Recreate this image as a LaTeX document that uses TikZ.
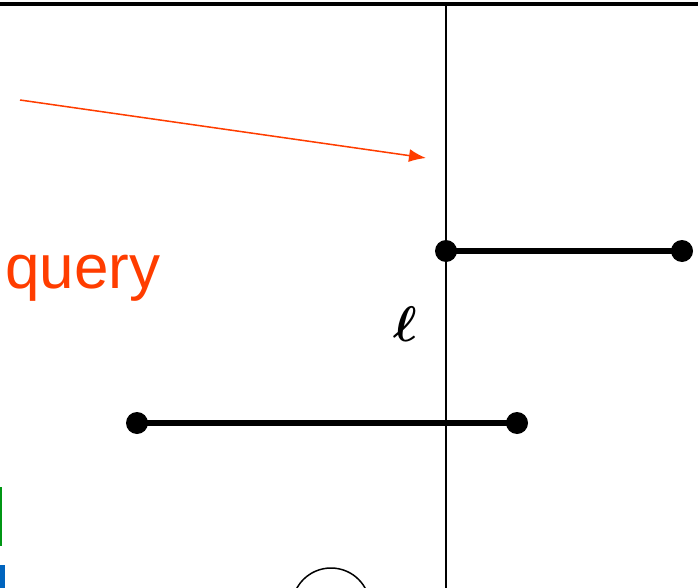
\documentclass[tikz,border=0pt]{standalone}
\usepackage{amsmath}
\usepackage{amssymb}
\usepackage{fontspec}
\setmainfont{Liberation Sans}
\usepackage{tikz}
\usetikzlibrary{arrows.meta}
\usetikzlibrary{calc}
\usetikzlibrary{positioning}
\tikzset{>=latex}
\definecolor{qred}{RGB}{255,61,0}
\definecolor{qgreen}{RGB}{0,150,20}
\definecolor{qblue}{RGB}{0,100,190}
\tikzset{
  seg_pt/.style = {circle, fill=black, inner sep=0pt, minimum size=22pt},
  seg_ln/.style = {line width=6pt},
  q_txt/.style = {text=qred, font=\fontsize{62}{62}\selectfont, inner sep=0pt},
  l_txt/.style = {inner sep=0pt}
}
\begin{document}
\begin{tikzpicture}[x=1pt,y=-1pt]
    \useasboundingbox (0,0) rectangle (698,588);
    \clip (0,0) rectangle (698,588);

    % sweep line and frame
    \coordinate (topL) at (0,4);
    \coordinate (topR) at (698,4);
    \draw [line width=4pt] (topL) -- (topR);
    \coordinate (lnT) at (446,4);
    \coordinate (lnB) at (446,588);
    \draw [line width=1.8pt] (lnT) -- (lnB);

    % segments
    \node [seg_pt] (a1) at (446,251) {};
    \node [seg_pt] (a2) at (682,251) {};
    \node [seg_pt] (b1) at (137,423) {};
    \node [seg_pt] (b2) at (517,423) {};
    \draw [seg_ln] (a1.center) -- (a2.center);
    \draw [seg_ln] (b1.center) -- (b2.center);

    % labels
    \node [q_txt, anchor=base west] (query) at (5,288) {query};
    \node [l_txt, anchor=base] (ell) at (405,341) {\scalebox{5}{$\boldsymbol{\ell}$}};
    \coordinate (arS) at (20,100);
    \coordinate (arE) at (426,158);
    \draw [-{Latex[length=17pt,width=13pt]}, qred, line width=1.5pt] (arS) -- (arE);

    % partial shapes at the border
    \fill [qgreen] (0,487) rectangle (2,546);
    \fill [qblue] (0,565) rectangle (5,590);
    \node [circle, draw, line width=1.5pt, minimum size=78pt, inner sep=0pt] (circ) at (331,607) {};
\end{tikzpicture}
\end{document}
